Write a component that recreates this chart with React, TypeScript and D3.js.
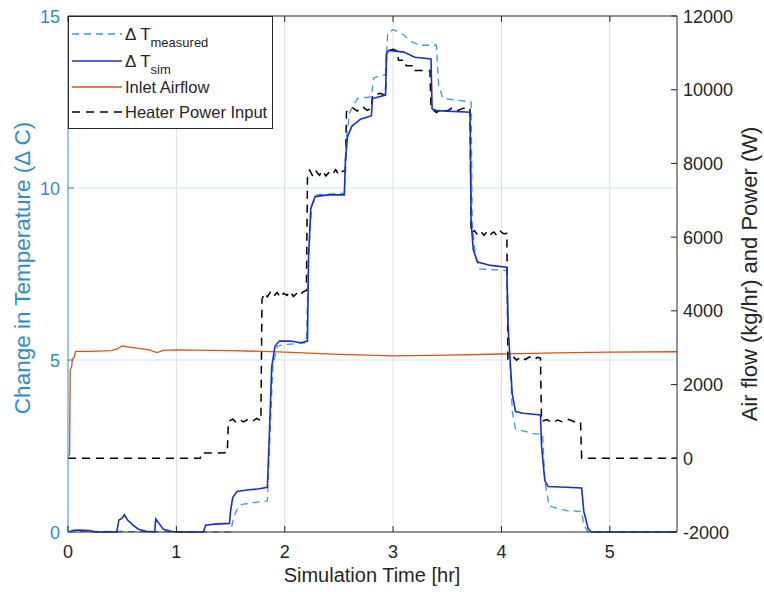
import React from "react";
import * as d3 from "d3";

// ---------- data ----------
const xTicks = [0, 1, 2, 3, 4, 5];
const leftTicks = [0, 5, 10, 15];
const rightTicks = [-2000, 0, 2000, 4000, 6000, 8000, 10000, 12000];

// ΔT simulated (°C) vs time (hr)
const simT = [0, 0.05, 0.1, 0.2, 0.25, 0.45, 0.47, 0.5, 0.52, 0.55, 0.6, 0.65, 0.72, 0.8, 0.81, 0.84, 0.88, 0.95, 1.0, 1.25, 1.27, 1.35, 1.49, 1.5, 1.52, 1.56, 1.65, 1.75, 1.84, 1.86, 1.88, 1.91, 1.95, 2.05, 2.15, 2.21, 2.22, 2.24, 2.28, 2.4, 2.55, 2.56, 2.58, 2.62, 2.7, 2.8, 2.81, 2.93, 2.94, 2.96, 3.1, 3.2, 3.35, 3.36, 3.4, 3.71, 3.72, 3.74, 3.78, 3.9, 4.05, 4.06, 4.1, 4.13, 4.2, 4.36, 4.37, 4.4, 4.43, 4.6, 4.74, 4.76, 4.8, 4.83, 5.62];
const simV = [0, 0.05, 0.06, 0.04, 0, 0, 0.35, 0.4, 0.5, 0.35, 0.2, 0.08, 0.02, 0, 0.38, 0.25, 0.08, 0.02, 0, 0, 0.2, 0.23, 0.25, 0.6, 1.0, 1.18, 1.22, 1.25, 1.3, 3.0, 4.8, 5.4, 5.55, 5.55, 5.5, 5.55, 8.0, 9.4, 9.75, 9.8, 9.8, 10.8, 11.5, 11.8, 12.0, 12.1, 12.6, 12.7, 13.9, 14.0, 13.95, 13.8, 13.75, 12.3, 12.25, 12.2, 9.0, 8.2, 7.85, 7.75, 7.7, 6.0, 4.0, 3.5, 3.45, 3.4, 2.5, 1.5, 1.32, 1.3, 1.28, 0.6, 0.1, 0, 0];

// ΔT measured (°C)
const measT = [0, 0.1, 1.5, 1.52, 1.55, 1.6, 1.7, 1.84, 1.86, 1.89, 1.93, 2.0, 2.2, 2.22, 2.25, 2.3, 2.55, 2.57, 2.6, 2.67, 2.8, 2.82, 2.93, 2.95, 3.0, 3.04, 3.1, 3.17, 3.25, 3.4, 3.42, 3.46, 3.6, 3.72, 3.73, 3.76, 3.8, 4.05, 4.07, 4.1, 4.13, 4.3, 4.38, 4.4, 4.44, 4.6, 4.74, 4.76, 4.8, 5.62];
const measV = [0, 0.02, 0, 0.3, 0.6, 0.8, 0.85, 0.9, 2.5, 4.8, 5.4, 5.45, 5.5, 8.0, 9.5, 9.8, 9.85, 11.5, 12.2, 12.6, 12.65, 13.2, 13.3, 14.5, 14.6, 14.55, 14.45, 14.25, 14.15, 14.15, 13.0, 12.6, 12.55, 12.5, 9.0, 8.0, 7.65, 7.6, 5.5, 3.5, 3.0, 2.85, 2.85, 1.5, 0.75, 0.62, 0.6, 0.2, 0, 0];

// Inlet airflow (kg/hr)
const airT = [0, 0.015, 0.02, 0.035, 0.04, 0.06, 0.07, 0.2, 0.4, 0.45, 0.5, 0.55, 0.65, 0.75, 0.82, 0.88, 1.0, 1.5, 1.8, 2.0, 2.5, 3.0, 3.5, 4.0, 4.5, 5.0, 5.62];
const airV = [50, 100, 2400, 2500, 2700, 2750, 2900, 2900, 2920, 2960, 3050, 3020, 2980, 2940, 2870, 2930, 2940, 2920, 2900, 2880, 2820, 2780, 2800, 2830, 2860, 2880, 2890];

// Heater power input (W)
const heatT = [0, 1.22, 1.23, 1.47, 1.48, 1.52, 1.55, 1.58, 1.62, 1.66, 1.7, 1.74, 1.78, 1.79, 1.81, 1.84, 1.87, 1.9, 1.93, 1.96, 1.99, 2.02, 2.05, 2.08, 2.11, 2.14, 2.17, 2.2, 2.21, 2.23, 2.26, 2.29, 2.32, 2.35, 2.38, 2.41, 2.44, 2.47, 2.5, 2.53, 2.56, 2.57, 2.62, 2.67, 2.72, 2.76, 2.8, 2.81, 2.88, 2.93, 2.94, 3.0, 3.04, 3.05, 3.11, 3.12, 3.19, 3.2, 3.34, 3.35, 3.4, 3.45, 3.5, 3.55, 3.6, 3.65, 3.71, 3.72, 3.75, 3.78, 3.81, 3.84, 3.87, 3.9, 3.93, 3.96, 3.99, 4.02, 4.05, 4.06, 4.1, 4.14, 4.18, 4.22, 4.26, 4.3, 4.33, 4.36, 4.37, 4.42, 4.47, 4.52, 4.57, 4.62, 4.67, 4.73, 4.74, 5.62];
const heatP = [0, 0, 140, 150, 1000, 1060, 980, 1050, 990, 1060, 1000, 1080, 1020, 4300, 4480, 4380, 4520, 4400, 4500, 4360, 4480, 4420, 4530, 4390, 4470, 4410, 4520, 4550, 7700, 7820, 7650, 7790, 7680, 7800, 7660, 7760, 7700, 7830, 7690, 7780, 7800, 9400, 9520, 9420, 9540, 9440, 9500, 9850, 9900, 9850, 11050, 11100, 11050, 10800, 10800, 10650, 10650, 10520, 10520, 9500, 9380, 9480, 9420, 9520, 9440, 9500, 9500, 6100, 6180, 6060, 6150, 6050, 6170, 6080, 6140, 6040, 6160, 6090, 6100, 2700, 2780, 2660, 2760, 2680, 2750, 2670, 2740, 2720, 1000, 1050, 960, 1040, 980, 1060, 990, 980, 0, 0];

const legendLabels = ["measured", "sim", "Inlet Airflow", "Heater Power Input"];

// ---------- layout ----------
const W = 764, H = 592;
const L = 68, R = 677, T = 16, B = 532;
const FONT = "'Liberation Sans', Arial, Helvetica, sans-serif";
const LEFT_COLOR = "#2f8ccd";
const MEAS_COLOR = "#3d98d8";
const SIM_COLOR = "#1a2fd0";
const AIR_COLOR = "#d95319";
const TEXT = "#262626";

export default function App() {
  const x = d3.scaleLinear().domain([0, 5.62]).range([L, R]);
  const yL = d3.scaleLinear().domain([0, 15]).range([B, T]);
  const yR = d3.scaleLinear().domain([-2000, 12000]).range([B, T]);

  const mk = (ts: number[], vs: number[], ys: d3.ScaleLinear<number, number>) =>
    d3.line<number>().x((_, i) => x(ts[i])).y((v) => ys(v))(vs) || "";

  const simPath = mk(simT, simV, yL);
  const measPath = mk(measT, measV, yL);
  const airPath = mk(airT, airV, yR);
  const heatPath = mk(heatT, heatP, yR);

  const lx0 = 72, lx1 = 122, ltx = 125;
  const rows = [40, 67, 93, 118];

  return (
    <svg width={W} height={H} style={{ position: "absolute", left: 0, top: 0, background: "#fff" }} fontFamily={FONT}>
      <rect x={0} y={0} width={W} height={H} fill="#fff" />
      {/* grid */}
      {xTicks.filter((t) => t > 0).map((t) => (
        <line key={"gx" + t} x1={x(t)} x2={x(t)} y1={T} y2={B} stroke="#dedede" strokeWidth={1} />
      ))}
      {leftTicks.filter((t) => t > 0 && t < 15).map((t) => (
        <line key={"gy" + t} x1={L} x2={R} y1={yL(t)} y2={yL(t)} stroke="#d6e6f1" strokeWidth={1} />
      ))}

      {/* series */}
      <path d={airPath} fill="none" stroke={AIR_COLOR} strokeWidth={1.3} />
      <path d={heatPath} fill="none" stroke="#000" strokeWidth={1.5} strokeDasharray="8,6" />
      <path d={measPath} fill="none" stroke={MEAS_COLOR} strokeWidth={1.3} strokeDasharray="7,5" />
      <path d={simPath} fill="none" stroke={SIM_COLOR} strokeWidth={1.6} />

      {/* axes box */}
      <line x1={L} x2={R} y1={B} y2={B} stroke={TEXT} strokeWidth={1} />
      <line x1={L} x2={R} y1={T} y2={T} stroke={TEXT} strokeWidth={1} />
      <line x1={L} x2={L} y1={T} y2={B} stroke={LEFT_COLOR} strokeWidth={1} />
      <line x1={R} x2={R} y1={T} y2={B} stroke={TEXT} strokeWidth={1} />

      {/* x ticks */}
      {xTicks.map((t) => (
        <g key={"xt" + t}>
          <line x1={x(t)} x2={x(t)} y1={B} y2={B - 6} stroke={TEXT} />
          <line x1={x(t)} x2={x(t)} y1={T} y2={T + 6} stroke={TEXT} />
          <text x={x(t)} y={558} textAnchor="middle" fontSize={18} fill={TEXT}>{t}</text>
        </g>
      ))}
      {/* left ticks */}
      {leftTicks.map((t) => (
        <g key={"yl" + t}>
          <line x1={L} x2={L + 6} y1={yL(t)} y2={yL(t)} stroke={LEFT_COLOR} />
          <text x={60} y={yL(t) + 6.5} textAnchor="end" fontSize={18} fill={LEFT_COLOR}>{t}</text>
        </g>
      ))}
      {/* right ticks */}
      {rightTicks.map((t) => (
        <g key={"yr" + t}>
          <line x1={R} x2={R - 6} y1={yR(t)} y2={yR(t)} stroke={TEXT} />
          <text x={683} y={yR(t) + 6.5} textAnchor="start" fontSize={18} fill={TEXT}>{t}</text>
        </g>
      ))}

      {/* axis labels */}
      <text x={372} y={582} textAnchor="middle" fontSize={20} fill={TEXT}>Simulation Time [hr]</text>
      <text transform={`translate(30,${(T + B) / 2 - 6}) rotate(-90)`} textAnchor="middle" fontSize={22.5} fill={LEFT_COLOR}>
        Change in Temperature (Δ C)
      </text>
      <text transform={`translate(757,${(T + B) / 2}) rotate(-90)`} textAnchor="middle" fontSize={22} fill={TEXT}>
        Air flow (kg/hr) and Power (W)
      </text>

      {/* legend */}
      <rect x={L + 0.5} y={T + 0.5} width={204} height={112} fill="#fff" stroke={TEXT} strokeWidth={1} />
      <line x1={lx0} x2={lx1} y1={rows[0] - 6} y2={rows[0] - 6} stroke={MEAS_COLOR} strokeWidth={1.3} strokeDasharray="7,5" />
      <text x={ltx} y={rows[0]} fontSize={17} fill={TEXT}>
        Δ T<tspan dy={7} fontSize={13}>{legendLabels[0]}</tspan>
      </text>
      <line x1={lx0} x2={lx1} y1={rows[1] - 6} y2={rows[1] - 6} stroke={SIM_COLOR} strokeWidth={1.6} />
      <text x={ltx} y={rows[1]} fontSize={17} fill={TEXT}>
        Δ T<tspan dy={7} fontSize={13}>{legendLabels[1]}</tspan>
      </text>
      <line x1={lx0} x2={lx1} y1={rows[2] - 6} y2={rows[2] - 6} stroke={AIR_COLOR} strokeWidth={1.3} />
      <text x={ltx} y={rows[2]} fontSize={16.5} fill={TEXT}>{legendLabels[2]}</text>
      <line x1={lx0} x2={lx1} y1={rows[3] - 6} y2={rows[3] - 6} stroke="#000" strokeWidth={1.5} strokeDasharray="8,6" />
      <text x={ltx} y={rows[3]} fontSize={16.5} fill={TEXT}>{legendLabels[3]}</text>
    </svg>
  );
}
